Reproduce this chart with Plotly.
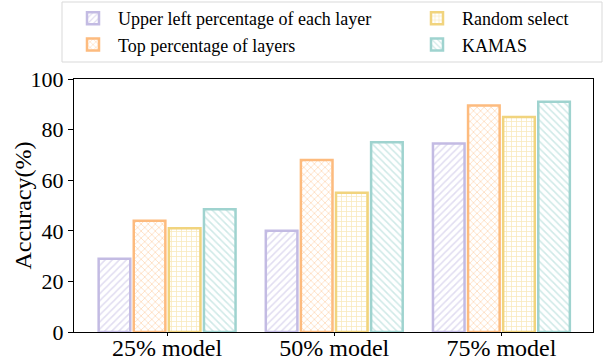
import plotly.graph_objects as go

# Accuracy of each parameter-selection strategy at three model sizes
models = ["25% model", "50% model", "75% model"]
upper_left = [29, 40, 74.5]
top_layers = [44, 68, 89.5]
random_sel = [41, 55, 85]
kamas = [48.5, 75, 91]

series = [
    ("Upper left percentage of each layer", upper_left, "#c3bbe3", "/", "legend"),
    ("Top percentage of layers", top_layers, "#fdbb7e", "x", "legend"),
    ("Random select", random_sel, "#f1d47e", "+", "legend2"),
    ("KAMAS", kamas, "#9fd3cf", "\\", "legend2"),
]

FONT = "Liberation Serif"
W, H = 605, 364
ML, MR, MT, MB = 74, 12, 79, 32
PW, PH = W - ML - MR, H - MT - MB

fig = go.Figure()
for name, vals, col, shape, leg in series:
    fig.add_trace(go.Bar(
        x=list(range(len(models))),
        y=vals,
        name=name,
        legend=leg,
        marker=dict(
            color="white",
            line=dict(color=col, width=2.5),
            pattern=dict(shape=shape, fgcolor=col, bgcolor="white",
                         size=5, solidity=0.3),
        ),
    ))

legend_common = dict(
    orientation="v", xref="container", yref="container",
    yanchor="top", xanchor="left",
    font=dict(family=FONT, size=18),
    borderwidth=0, bgcolor="rgba(0,0,0,0)",
    tracegroupgap=0, traceorder="normal", itemwidth=40,
)

fig.update_layout(
    width=W, height=H,
    margin=dict(l=ML, r=MR, t=MT, b=MB, autoexpand=False),
    paper_bgcolor="white", plot_bgcolor="white",
    barmode="group", bargap=0.16, bargroupgap=0.1,
    font=dict(family=FONT, color="black", size=22),
    showlegend=True,
    legend=dict(legend_common, x=68 / W, y=1),
    legend2=dict(legend_common, x=412 / W, y=1),
    shapes=[dict(
        type="rect", xref="paper", yref="paper", layer="below",
        x0=(62 - ML) / PW, x1=(602 - ML) / PW,
        y0=(H - MB - 62) / PH, y1=(H - MB - 2) / PH,
        line=dict(color="#d9d9d9", width=1), fillcolor="white",
    )],
    annotations=[dict(
        text="Accuracy(%)", textangle=-90, showarrow=False,
        xref="paper", yref="paper", x=(22 - ML) / PW, y=0.5,
        xanchor="center", yanchor="middle", font=dict(size=24),
    )],
)
fig.update_xaxes(
    tickmode="array", tickvals=list(range(len(models))), ticktext=models,
    range=[-0.557, 2.548],
    showline=True, linecolor="black", linewidth=1.2, mirror=True,
    ticks="outside", ticklen=3, tickcolor="black",
    tickfont=dict(size=24), ticklabelstandoff=-9,
    showgrid=False, zeroline=False,
)
fig.update_yaxes(
    range=[0, 100], tickvals=[0, 20, 40, 60, 80, 100],
    showline=True, linecolor="black", linewidth=1.2, mirror=True,
    ticks="outside", ticklen=5, tickcolor="black",
    tickfont=dict(size=22), showgrid=False, zeroline=False,
)

fig.write_html("out.html")
